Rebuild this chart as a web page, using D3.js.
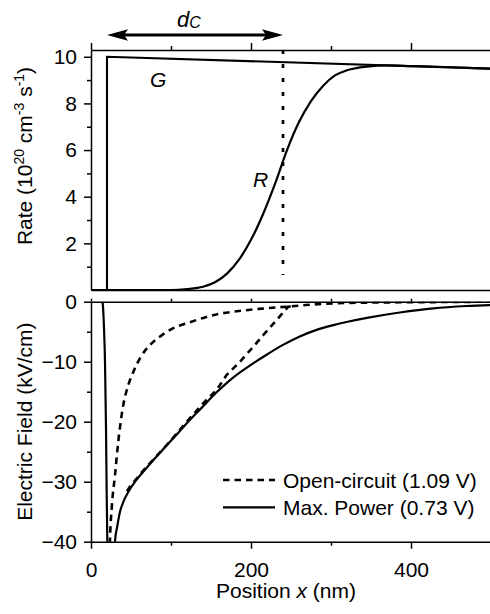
<!DOCTYPE html>
<html>
<head>
<meta charset="utf-8">
<script src="https://cdn.jsdelivr.net/npm/d3@7"></script>
<style>
body { margin: 0; background: #fff; }
svg { display: block; font-family: "Liberation Sans", Arial, sans-serif; }
</style>
</head>
<body>
<div id="chart"></div>
<script>
// Axis ticks
const xMajor = [0, 200, 400];
const xMinor = [100, 300, 500];
const rateMajor = [2, 4, 6, 8, 10];
const rateMinor = [1, 3, 5, 7, 9];
const fieldMajor = [0, -10, -20, -30, -40];
const fieldMinor = [-5, -15, -25, -35];

// Top panel: generation G and recombination R (10^20 cm^-3 s^-1)
const genX = [0, 20, 20, 500];
const genY = [0, 0, 10, 9.49];
const recX = [20, 100, 120, 140, 155, 170, 185, 200, 215, 230, 245, 260, 275, 290, 305, 320, 345, 370, 400, 450, 500];
const recY = [0, 0, 0.04, 0.14, 0.33, 0.70, 1.30, 2.15, 3.25, 4.55, 6.0, 7.2, 8.1, 8.75, 9.2, 9.42, 9.58, 9.63, 9.6, 9.55, 9.49];
const dC = 240;
const dStart = 20;

// Bottom panel: electric field (kV/cm)
const mpX = [14, 14.6, 16.25, 17.5, 18.75, 19.6, 20.4, 22, 28, 30, 33, 36.25, 41, 46.6, 55, 65, 80, 95, 110, 125, 136, 157, 178, 199, 220, 240, 261, 282, 303, 345, 386, 428, 470, 500];
const mpE = [0, -0.3, -4.4, -10, -21, -32, -40, -70, -70, -40, -37.3, -35, -33.2, -31.7, -30.0, -28.4, -26.1, -23.9, -21.7, -19.5, -18.0, -15.1, -12.6, -10.6, -8.8, -7.2, -5.8, -4.7, -3.9, -2.7, -1.8, -1.1, -0.72, -0.55];
const ocX = [22.5, 23.75, 25.9, 30, 34.1, 40.4, 46.6, 52.9, 61.3, 73.8, 86.3, 102.9, 119.6, 140.4, 159.1, 177.9, 210, 244.6, 302.5, 386, 450, 500];
const ocE = [-50, -39.7, -34.4, -28.9, -23.3, -17.2, -13.9, -11.7, -9.4, -7.2, -5.8, -4.4, -3.6, -2.7, -2.05, -1.67, -1.2, -0.83, -0.27, -0.1, -0.05, 0];
const oc2X = [45, 48.75, 67.5, 94.6, 123.75, 140.4, 157.1, 169.6, 186.25, 200.9, 215.4, 232.1, 246.6, 252];
const oc2E = [-31.6, -30.8, -27.8, -23.9, -19.4, -16.9, -14.7, -12.2, -10, -7.8, -5.55, -3.05, -0.83, -0.76];

const legendItems = [
    { label: "Open-circuit (1.09 V)", dash: "6.5,5", width: 2.6 },
    { label: "Max. Power (0.73 V)", dash: null, width: 2.2 }
];

const W = 490, H = 614;
const FS = 21;
const svg = d3.select("#chart").append("svg")
    .attr("width", W)
    .attr("height", H);

const x = d3.scaleLinear().domain([0, 500]).range([91, 491]);
const yRate = d3.scaleLinear().domain([0, 10.29]).range([290, 50]);
const yField = d3.scaleLinear().domain([-40, 0]).range([541.7, 301.7]);

// Axis helper: major ticks with labels, minor ticks without
function drawAxis(axisFn, scale, major, minor, pos, bigSize, smallSize, labels, pad) {
    const isX = axisFn === d3.axisTop || axisFn === d3.axisBottom;
    const tr = isX ? `translate(0,${pos})` : `translate(${pos},0)`;
    const gMaj = svg.append("g").attr("transform", tr)
        .call(axisFn(scale).tickValues(major).tickSize(bigSize).tickSizeOuter(0)
            .tickPadding(pad || 3)
            .tickFormat(labels ? d3.format("d") : ""));
    const gMin = svg.append("g").attr("transform", tr)
        .call(axisFn(scale).tickValues(minor).tickSize(smallSize).tickSizeOuter(0).tickFormat(""));
    gMin.select(".domain").remove();
    [gMaj, gMin].forEach(g => {
        g.selectAll("line").attr("stroke", "#000").attr("stroke-width", 1.5);
        g.select(".domain").attr("stroke", "#000").attr("stroke-width", 1.5);
        g.selectAll("text").attr("fill", "#000")
            .style("font-size", FS + "px")
            .style("font-family", "'Liberation Sans', Arial, sans-serif");
    });
    return gMaj;
}

// Top panel axes
drawAxis(d3.axisLeft, yRate, rateMajor, rateMinor, 91, 7, 4, true, 7);
drawAxis(d3.axisTop, x, xMajor, xMinor, 50, 7, 4, false);
svg.append("g").attr("transform", "translate(0,290)")
    .call(d3.axisBottom(x).tickValues([]).tickSizeOuter(0))
    .select(".domain").attr("stroke", "#000").attr("stroke-width", 1.5);

// Bottom panel axes
drawAxis(d3.axisLeft, yField, fieldMajor, fieldMinor, 91, 7, 4, true, 7);
drawAxis(d3.axisBottom, x, xMajor, xMinor, 541.7, 7, 4, true, 13);
drawAxis(d3.axisTop, x, xMajor, xMinor, 301.7, 3, 3, false);

// Clip for bottom panel
svg.append("clipPath").attr("id", "clipField")
    .append("rect")
    .attr("x", x(0)).attr("y", yField(0))
    .attr("width", x(500) - x(0)).attr("height", yField(-40) - yField(0));

const toPts = (xs, ys) => xs.map((v, i) => [v, ys[i]]);

// Top panel curves
svg.append("path")
    .datum(toPts(genX, genY))
    .attr("fill", "none").attr("stroke", "#000").attr("stroke-width", 2.1)
    .attr("d", d3.line().x(d => x(d[0])).y(d => yRate(d[1])).curve(d3.curveLinear));
svg.append("path")
    .datum(toPts(recX, recY))
    .attr("fill", "none").attr("stroke", "#000").attr("stroke-width", 2.2)
    .attr("d", d3.line().x(d => x(d[0])).y(d => yRate(d[1])).curve(d3.curveMonotoneX));

// d_C dotted marker
svg.append("line")
    .attr("x1", x(dC)).attr("x2", x(dC))
    .attr("y1", yRate(10.29)).attr("y2", yRate(0.64))
    .attr("stroke", "#000").attr("stroke-width", 2.7)
    .attr("stroke-dasharray", "4,10");

svg.append("text").attr("x", 150).attr("y", 87)
    .style("font-size", FS + "px").style("font-style", "italic").text("G");
svg.append("text").attr("x", 253).attr("y", 187)
    .style("font-size", FS + "px").style("font-style", "italic").text("R");

// d_C arrow
const ay = 35;
svg.append("line")
    .attr("x1", x(dStart) + 8).attr("x2", x(dC) - 8)
    .attr("y1", ay).attr("y2", ay)
    .attr("stroke", "#000").attr("stroke-width", 3);
const head = (tip, dir) => {
    const L = 21, hw = 5.8, notch = 4;
    return `M${tip},${ay} L${tip + dir * L},${ay - hw} L${tip + dir * (L - notch)},${ay} L${tip + dir * L},${ay + hw} Z`;
};
svg.append("path").attr("d", head(x(dStart), 1)).attr("fill", "#000");
svg.append("path").attr("d", head(x(dC), -1)).attr("fill", "#000");
const dLabel = svg.append("text").attr("x", 177).attr("y", 26.5)
    .style("font-size", "22px").style("font-style", "italic");
dLabel.append("tspan").text("d");
dLabel.append("tspan").attr("dy", 1.5).style("font-size", "16px").text("C");

// Bottom panel curves
const lineField = d3.line().x(d => x(d[0])).y(d => yField(d[1])).curve(d3.curveMonotoneX);
const gField = svg.append("g").attr("clip-path", "url(#clipField)");
gField.append("path")
    .datum(toPts(ocX, ocE))
    .attr("fill", "none").attr("stroke", "#000").attr("stroke-width", 2.6)
    .attr("stroke-dasharray", "6.5,5")
    .attr("d", lineField);
gField.append("path")
    .datum(toPts(oc2X, oc2E))
    .attr("fill", "none").attr("stroke", "#000").attr("stroke-width", 2.6)
    .attr("stroke-dasharray", "6.5,5")
    .attr("d", d3.line().x(d => x(d[0])).y(d => yField(d[1])).curve(d3.curveLinear));
gField.append("path")
    .datum(toPts(mpX, mpE))
    .attr("fill", "none").attr("stroke", "#000").attr("stroke-width", 2.2)
    .attr("d", lineField);

// Legend
legendItems.forEach((d, i) => {
    const ly = 480 + i * 27.3;
    svg.append("line")
        .attr("x1", 223).attr("x2", 275).attr("y1", ly).attr("y2", ly)
        .attr("stroke", "#000").attr("stroke-width", d.width)
        .attr("stroke-dasharray", d.dash);
    svg.append("text").attr("x", 283).attr("y", ly + 7.5)
        .style("font-size", FS + "px").text(d.label);
});

// Axis titles
const rateTitle = svg.append("text")
    .attr("transform", "translate(32,156) rotate(-90)")
    .attr("text-anchor", "middle")
    .style("font-size", FS + "px");
rateTitle.append("tspan").text("Rate (10");
rateTitle.append("tspan").attr("dy", -8).style("font-size", "14px").text("20");
rateTitle.append("tspan").attr("dy", 8).text(" cm");
rateTitle.append("tspan").attr("dy", -8).style("font-size", "14px").text("-3");
rateTitle.append("tspan").attr("dy", 8).text(" s");
rateTitle.append("tspan").attr("dy", -8).style("font-size", "14px").text("-1");
rateTitle.append("tspan").attr("dy", 8).text(")");

svg.append("text")
    .attr("transform", `translate(32,${(yField(0) + yField(-40)) / 2}) rotate(-90)`)
    .attr("text-anchor", "middle")
    .style("font-size", FS + "px")
    .text("Electric Field (kV/cm)");

const xTitle = svg.append("text")
    .attr("x", 286).attr("y", 598)
    .attr("text-anchor", "middle")
    .style("font-size", FS + "px");
xTitle.append("tspan").text("Position ");
xTitle.append("tspan").style("font-style", "italic").text("x");
xTitle.append("tspan").text(" (nm)");
</script>
</body>
</html>
